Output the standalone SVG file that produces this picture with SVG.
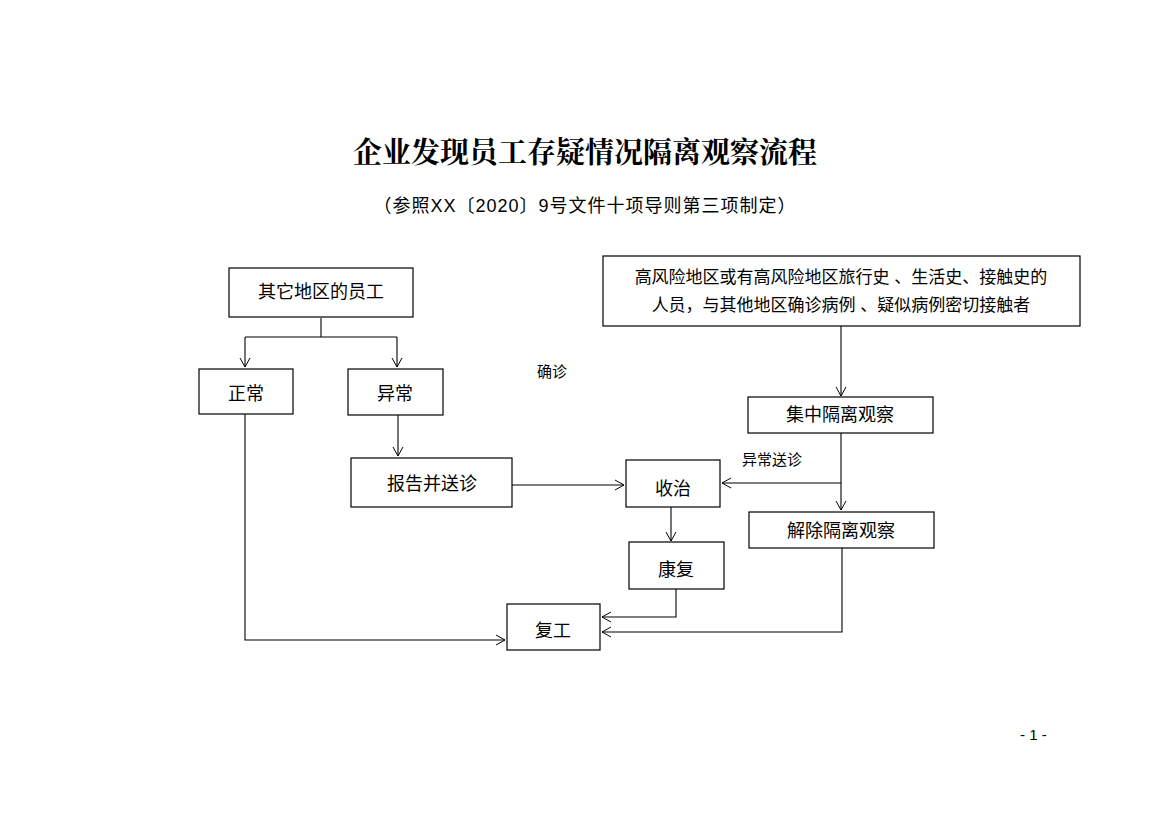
<svg xmlns="http://www.w3.org/2000/svg" width="1169" height="827" viewBox="0 0 1169 827">
<style>
.b{fill:#fff;stroke:#000;stroke-width:1.2}
.t{font-family:"Liberation Sans","Noto Sans CJK SC",sans-serif;font-size:18px;text-anchor:middle;fill:#000}
.s{font-family:"Liberation Sans","Noto Sans CJK SC",sans-serif;font-size:15px;fill:#000}
.c{fill:none;stroke:#000;stroke-width:1.1}
</style>
<defs><marker id="a" markerWidth="12" markerHeight="12" refX="10" refY="6" orient="auto" markerUnits="userSpaceOnUse"><path d="M1,1 L10,6 L1,11" fill="none" stroke="#000" stroke-width="1"/></marker></defs>
<rect width="1169" height="827" fill="#fff"/>
<text x="585" y="163" text-anchor="middle" font-family="'Noto Serif CJK SC','Liberation Serif','Noto Sans CJK SC',serif" font-weight="bold" font-size="29">企业发现员工存疑情况隔离观察流程</text>
<text x="585" y="212" class="t" style="font-size:18px;letter-spacing:1px">（参照XX〔2020〕9号文件十项导则第三项制定）</text>
<g id="connectors">
<path class="c" d="M321,318 V337 M245,337 H397"/>
<path class="c" d="M245,337 V367" marker-end="url(#a)"/>
<path class="c" d="M397,337 V367" marker-end="url(#a)"/>
<path class="c" d="M398,415 V456" marker-end="url(#a)"/>
<path class="c" d="M512,485 H624" marker-end="url(#a)"/>
<path class="c" d="M841,326 V396" marker-end="url(#a)"/>
<path class="c" d="M841,433 V510" marker-end="url(#a)"/>
<path class="c" d="M841,483 H722" marker-end="url(#a)"/>
<path class="c" d="M671,507 V541" marker-end="url(#a)"/>
<path class="c" d="M676,589 V617 H602" marker-end="url(#a)"/>
<path class="c" d="M842,548 V632 H602" marker-end="url(#a)"/>
<path class="c" d="M245,414 V640 H505" marker-end="url(#a)"/>
</g>
<g id="n1"><rect class="b" x="229" y="268" width="184" height="49"/><text class="t" x="321" y="298">其它地区的员工</text></g>
<g id="n2"><rect class="b" x="199" y="369" width="94" height="45"/><text class="t" x="246" y="400">正常</text></g>
<g id="n3"><rect class="b" x="348" y="369" width="95" height="46"/><text class="t" x="395" y="400">异常</text></g>
<g id="n4"><rect class="b" x="351" y="458" width="161" height="49"/><text class="t" x="432" y="490">报告并送诊</text></g>
<g id="n5"><rect class="b" x="626" y="460" width="94" height="47"/><text class="t" x="673" y="495">收治</text></g>
<g id="n6"><rect class="b" x="603" y="256" width="477" height="70"/><text class="t" x="841" y="283" style="font-size:17px">高风险地区或有高风险地区旅行史 、生活史、接触史的</text><text class="t" x="841" y="311" style="font-size:17px">人员，与其他地区确诊病例 、疑似病例密切接触者</text></g>
<g id="n7"><rect class="b" x="748" y="397" width="185" height="36"/><text class="t" x="840" y="421">集中隔离观察</text></g>
<g id="n8"><rect class="b" x="749" y="512" width="185" height="36"/><text class="t" x="841" y="537">解除隔离观察</text></g>
<g id="n9"><rect class="b" x="629" y="542" width="95" height="47"/><text class="t" x="676" y="576">康复</text></g>
<g id="n10"><rect class="b" x="507" y="604" width="93" height="46"/><text class="t" x="553" y="637">复工</text></g>
<text class="s" x="537" y="377">确诊</text>
<text class="s" x="742" y="465">异常送诊</text>
<text class="s" x="1020" y="740">- 1 -</text>
</svg>
